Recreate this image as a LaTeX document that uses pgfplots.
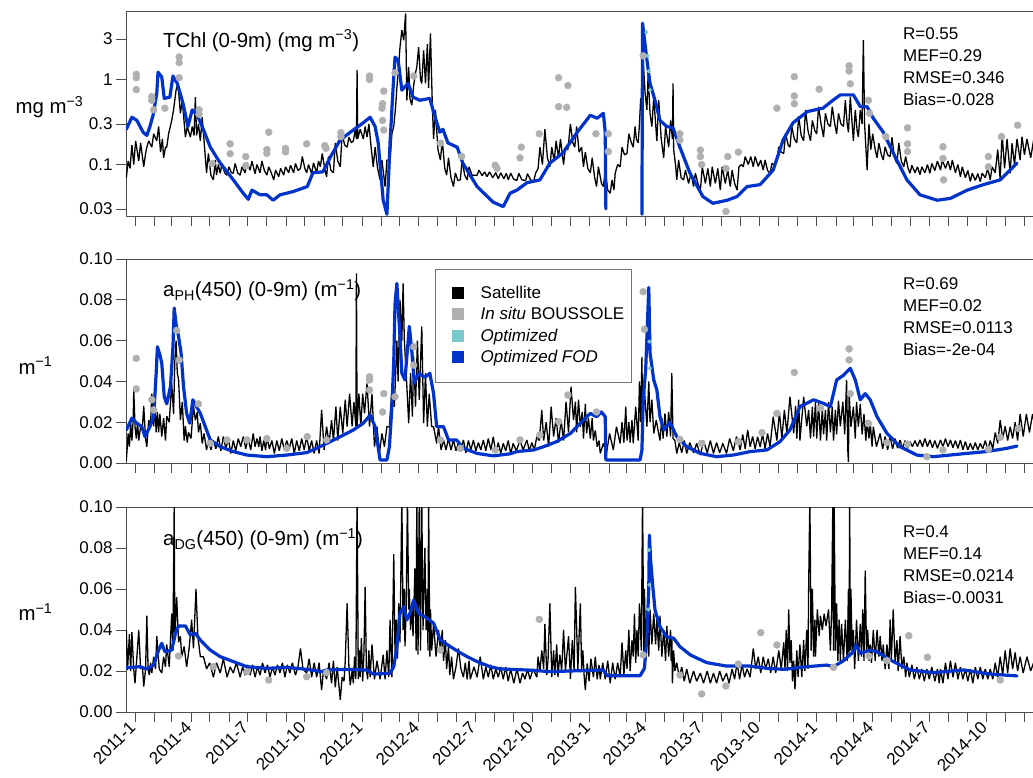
\documentclass[border=0pt]{standalone}
\usepackage{fontspec}
\setmainfont{Liberation Sans}
\usepackage{pgfplots}
\usepackage{pgfplotstable}
\pgfplotsset{compat=1.18}
\definecolor{fod}{RGB}{0,51,204}
\definecolor{opt}{RGB}{120,200,205}
\definecolor{insitu}{RGB}{176,176,176}
\newcommand\F{\fontsize{17}{22}\selectfont}
\newcommand\G{\fontsize{20.4}{24}\selectfont}

% ---------------- TChl satellite ----------------
\pgfplotstableread{
d v
-14 0.07
-11 0.11
-8 0.09
-5 0.17
-2 0.10
1 0.19
6 0.11
9 0.18
14 0.094
17 0.135
19 0.16
22 0.19
27 0.16
30 0.23
35 0.19
38 0.28
41 0.14
44 0.2
46 0.12
49 0.16
51 0.16
54 0.23
59 0.33
62 0.44
66 0.75
69 0.9
73 0.40
76 0.57
81 0.21
84 0.28
89 0.21
92 0.28
95 0.22
97 0.62
99 0.22
102 0.30
105 0.19
108 0.36
115 0.08
118 0.135
122 0.075
126 0.066
129 0.113
131 0.075
134 0.10
137 0.079
140 0.103
144 0.08
148 0.075
151 0.094
155 0.08
158 0.079
161 0.103
165 0.08
169 0.075
172 0.094
177 0.08
180 0.105
185 0.086
188 0.11
193 0.078
196 0.10
201 0.08
204 0.11
208 0.085
212 0.075
215 0.094
219 0.08
223 0.066
226 0.086
231 0.072
234 0.09
239 0.075
242 0.094
247 0.08
250 0.098
255 0.08
258 0.103
262 0.085
266 0.09
269 0.124
273 0.09
276 0.08
279 0.10
284 0.078
287 0.105
292 0.08
295 0.11
298 0.094
301 0.135
305 0.09
308 0.072
311 0.124
315 0.085
319 0.08
322 0.18
326 0.11
330 0.094
333 0.23
337 0.17
341 0.16
344 0.21
348 0.18
351 0.19
354 0.255
356 0.2
357 1.3
358 0.2
362 0.26
367 0.2
370 0.28
373 0.21
376 0.3
380 0.15
383 0.094
386 0.16
390 0.09
394 0.066
397 0.113
402 0.055
405 0.113
410 0.113
413 0.23
416 0.28
419 0.48
421 0.8
424 1.5
426 2.4
429 3.8
432 2.9
435 6
437 0.57
440 1.4
442 0.6
445 0.5
448 0.85
451 1.2
453 1.4
456 2.4
459 1.0
461 0.9
464 2.2
467 0.9
470 2.6
472 0.8
475 3.5
478 0.5
480 0.2
483 0.44
487 0.15
491 0.113
494 0.194
498 0.09
501 0.075
504 0.12
508 0.07
512 0.055
515 0.08
519 0.065
523 0.066
526 0.113
530 0.075
534 0.066
537 0.094
542 0.075
550 0.075
553 0.086
558 0.074
562 0.082
566 0.072
570 0.082
575 0.07
580 0.08
584 0.068
588 0.08
593 0.068
597 0.079
600 0.066
604 0.079
609 0.067
614 0.065
617 0.079
622 0.066
628 0.065
631 0.078
636 0.066
641 0.063
644 0.079
648 0.09
651 0.16
655 0.1
659 0.26
663 0.12
667 0.094
670 0.16
674 0.11
677 0.19
681 0.12
684 0.2
689 0.1
692 0.16
696 0.15
700 0.3
704 0.18
707 0.16
710 0.28
714 0.14
718 0.16
721 0.094
724 0.14
728 0.09
732 0.08
735 0.12
739 0.07
742 0.055
745 0.094
750 0.06
753 0.055
756 0.086
760 0.05
764 0.046
767 0.066
770 0.05
772 0.079
776 0.1
780 0.094
783 0.16
787 0.13
791 0.135
794 0.23
798 0.18
801 0.16
804 0.28
806 0.2
809 0.18
811 0.3
813 0.6
815 0.57
817 1.7
820 0.7
823 0.44
825 1.18
828 0.4
831 0.28
834 0.63
837 0.3
839 0.19
842 0.57
846 0.2
850 0.12
853 0.28
856 0.2
858 0.16
861 0.33
864 0.2
865 0.9
866 0.15
869 0.1
871 0.066
874 0.113
878 0.07
882 0.066
885 0.086
890 0.06
894 0.079
898 0.055
901 0.079
905 0.06
909 0.05
912 0.094
917 0.06
921 0.09
925 0.055
928 0.094
933 0.06
937 0.09
941 0.05
944 0.094
949 0.06
953 0.086
957 0.055
960 0.086
964 0.06
968 0.05
971 0.094
975 0.1
978 0.094
981 0.124
986 0.1
990 0.124
994 0.094
997 0.124
1002 0.095
1006 0.113
1010 0.086
1013 0.113
1017 0.085
1021 0.079
1024 0.103
1028 0.1
1032 0.113
1035 0.162
1039 0.14
1043 0.135
1046 0.233
1050 0.17
1053 0.16
1056 0.28
1060 0.2
1064 0.18
1067 0.37
1071 0.22
1075 0.19
1078 0.44
1082 0.25
1086 0.19
1089 0.33
1093 0.25
1096 0.23
1099 0.48
1103 0.3
1107 0.21
1110 0.40
1114 0.3
1118 0.28
1121 0.48
1125 0.3
1128 0.23
1131 0.40
1135 0.3
1139 0.28
1142 0.57
1145 0.3
1147 0.24
1150 0.63
1153 0.3
1155 0.19
1158 0.44
1161 0.25
1163 0.21
1166 0.44
1169 0.3
1171 2.9
1173 0.3
1177 0.086
1180 0.30
1183 0.15
1186 0.23
1190 0.15
1193 0.12
1196 0.178
1200 0.13
1203 0.113
1206 0.162
1210 0.13
1214 0.124
1217 0.21
1221 0.12
1225 0.103
1228 0.178
1232 0.11
1236 0.094
1239 0.124
1243 0.09
1246 0.079
1249 0.098
1254 0.08
1258 0.094
1262 0.076
1265 0.094
1270 0.08
1274 0.1
1278 0.079
1281 0.103
1286 0.085
1290 0.11
1295 0.086
1298 0.113
1303 0.09
1307 0.11
1311 0.086
1314 0.113
1319 0.08
1323 0.1
1327 0.072
1330 0.094
1335 0.07
1339 0.085
1343 0.063
1346 0.079
1351 0.065
1355 0.078
1359 0.063
1362 0.079
1367 0.07
1371 0.09
1375 0.066
1378 0.094
1383 0.08
1387 0.15
1391 0.066
1394 0.233
1398 0.09
1402 0.2
1407 0.079
1410 0.178
1414 0.1
1418 0.2
1423 0.113
1426 0.213
1430 0.13
1434 0.2
1440 0.12
1445 0.2
1450 0.13
1455 0.2
}\satA

\pgfplotstableread{
d v
-14 0.26
-5 0.36
3 0.33
13 0.24
19 0.22
24 0.28
29 0.38
35 0.69
37 1.22
43 1.07
47 0.6
56 0.62
61 1.1
68 0.9
77 0.53
85 0.28
92 0.44
100 0.38
108 0.28
121 0.16
137 0.104
158 0.066
174 0.046
182 0.039
188 0.05
201 0.044
212 0.044
222 0.038
233 0.044
254 0.048
277 0.055
286 0.080
302 0.082
314 0.122
330 0.195
351 0.255
367 0.31
378 0.36
386 0.28
391 0.18
399 0.038
405 0.026
407 0.055
410 0.18
415 0.81
418 1.83
423 1.7
429 0.75
439 0.9
447 0.62
458 0.57
474 0.6
479 0.44
490 0.24
495 0.26
503 0.18
518 0.16
527 0.104
550 0.055
576 0.036
592 0.032
603 0.046
614 0.05
630 0.061
651 0.066
667 0.104
688 0.137
711 0.24
732 0.38
743 0.35
753 0.40
756 0.24
757 0.03
758 nan
814 nan
815 0.026
816 4.6
823 1.7
828 0.9
836 0.57
844 0.33
855 0.28
865 0.27
876 0.16
892 0.08
913 0.042
929 0.035
952 0.038
968 0.042
984 0.055
1005 0.058
1026 0.086
1042 0.195
1058 0.31
1081 0.42
1106 0.46
1122 0.57
1134 0.66
1155 0.66
1166 0.48
1177 0.48
1187 0.35
1203 0.24
1219 0.137
1241 0.066
1262 0.044
1290 0.038
1311 0.040
1338 0.05
1364 0.058
1391 0.066
1418 0.104
}\blA

\pgfplotstableread{
d v
2 1.15
2 1.05
2 0.76
27 0.63
27 0.57
30 0.44
48 0.46
71 1.84
71 1.58
71 1.05
103 0.44
103 0.39
124 0.103
153 0.175
153 0.134
178 0.124
178 0.097
215 0.24
212 0.15
212 0.135
242 0.155
242 0.141
276 0.175
305 0.167
307 0.155
331 0.237
331 0.213
377 1.1
377 1.0
400 0.73
398 0.52
397 0.46
398 0.33
400 0.255
418 1.2
448 1.1
491 0.178
525 0.125
579 0.098
582 0.09
619 0.12
621 0.16
650 0.23
681 1.05
696 0.85
681 0.48
694 0.47
741 0.23
761 0.23
761 0.142
817 1.9
876 0.23
876 0.194
909 0.148
909 0.124
911 0.1
953 0.124
950 0.09
950 0.028
970 0.14
1032 0.46
1060 1.08
1060 0.64
1060 0.52
1100 0.77
1148 1.45
1148 1.26
1150 0.89
1179 0.57
1181 0.40
1207 0.213
1242 0.27
1242 0.175
1242 0.142
1299 0.162
1299 0.118
1300 0.066
1372 0.124
1372 0.094
1393 0.213
1419 0.29
}\grA

% ---------------- aPH satellite ----------------
\pgfplotstableread{
d v
-14 0.001
-11 0.0145
-9 0.008
-7 0.02
-5 0.011
-3 0.021
-2 0.036
0 0.018
2 0.012
4 0.02
6 0.011
9 0.018
12 0.018
14 0.028
17 0.012
19 0.008
22 0.021
25 0.019
27 0.034
30 0.018
32 0.028
34 0.015
36 0.025
38 0.015
40 0.024
43 0.013
46 0.022
49 0.011
51 0.023
55 0.02
59 0.039
62 0.024
64 0.05
66 0.06
68 0.044
70 0.041
73 0.021
76 0.03
79 0.011
81 0.018
84 0.01
86 0.015
90 0.012
94 0.028
97 0.021
100 0.025
102 0.015
105 0.0195
108 0.0096
111 0.0145
115 0.0064
118 0.011
122 0.0064
126 0.011
130 0.007
134 0.013
138 0.006
142 0.013
146 0.007
150 0.012
154 0.0047
158 0.011
162 0.006
166 0.012
170 0.008
174 0.013
178 0.007
182 0.012
186 0.0064
190 0.0145
193 0.008
196 0.012
199 0.008
201 0.013
204 0.006
207 0.011
210 0.0064
212 0.013
216 0.007
220 0.011
224 0.0047
228 0.011
232 0.006
236 0.012
240 0.0064
244 0.011
248 0.007
252 0.012
256 0.0047
260 0.011
264 0.006
268 0.012
272 0.0064
276 0.013
280 0.006
284 0.011
288 0.0047
292 0.011
296 0.0047
300 0.026
304 0.0064
308 0.0178
312 0.0096
316 0.021
319 0.011
323 0.0276
326 0.011
330 0.0276
334 0.0145
338 0.031
341 0.0178
345 0.034
349 0.018
352 0.03
355 0.018
356 0.093
357 0.018
360 0.034
363 0.0178
366 0.034
369 0.0243
373 0.039
377 0.0178
381 0.034
385 0.008
389 0.0178
393 0.005
397 0.0145
401 0.008
405 0.0178
409 0.0178
413 0.0358
417 0.0276
421 0.06
423 0.04
426 0.08
429 0.06
431 0.088
433 0.06
436 0.044
440 0.0195
443 0.044
446 0.0227
448 0.052
451 0.0276
454 0.06
457 0.031
461 0.067
464 0.0195
467 0.044
470 0.0178
473 0.034
477 0.0178
480 0.0178
485 0.0096
488 0.0178
492 0.0064
496 0.0113
500 0.0064
504 0.012
508 0.0064
512 0.0113
516 0.006
520 0.01
524 0.0064
528 0.0113
532 0.005
536 0.011
540 0.0064
544 0.0113
548 0.006
552 0.01
556 0.0064
560 0.0113
564 0.006
568 0.012
572 0.0064
576 0.0129
580 0.005
584 0.01
588 0.0047
592 0.0096
596 0.006
600 0.011
604 0.0047
608 0.0096
613 0.006
619 0.011
624 0.0064
630 0.0113
634 0.006
638 0.01
642 0.0064
646 0.0129
650 0.011
654 0.026
657 0.011
661 0.02
665 0.008
669 0.0276
673 0.013
677 0.022
681 0.01
685 0.0211
689 0.011
693 0.03
697 0.015
701 0.0374
705 0.021
708 0.03
710 0.015
713 0.031
716 0.0178
719 0.025
721 0.012
724 0.029
726 0.0145
729 0.022
732 0.012
735 0.022
737 0.011
740 0.016
743 0.008
746 0.011
748 0.0047
753 0.0096
758 0.0047
763 0.0145
769 0.0064
774 0.0178
780 0.0096
783 0.02
786 0.01
789 0.0276
791 0.011
794 0.02
796 0.01
799 0.0211
801 0.0096
805 0.0276
809 0.011
811 0.04
813 0.02
815 0.052
816 0.0195
819 0.0358
823 0.0178
826 0.04
828 0.02
831 0.031
834 0.0145
838 0.0211
844 0.011
847 0.022
849 0.012
852 0.0243
855 0.013
858 0.025
861 0.013
863 0.044
865 0.012
868 0.011
871 0.0047
875 0.01
879 0.005
883 0.011
887 0.0047
892 0.01
898 0.005
903 0.0096
909 0.0039
914 0.011
920 0.005
925 0.011
930 0.0047
935 0.01
940 0.005
945 0.0096
951 0.0047
956 0.012
962 0.006
967 0.013
973 0.0064
977 0.014
981 0.007
985 0.0162
989 0.008
993 0.013
997 0.007
1001 0.0129
1005 0.0079
1009 0.014
1013 0.007
1017 0.0145
1021 0.008
1026 0.0227
1032 0.011
1036 0.025
1040 0.012
1044 0.026
1048 0.0145
1053 0.0325
1059 0.0145
1062 0.028
1064 0.012
1067 0.031
1069 0.011
1075 0.0325
1080 0.018
1083 0.026
1086 0.012
1089 0.0276
1091 0.013
1094 0.03
1096 0.012
1099 0.0292
1102 0.011
1105 0.027
1107 0.014
1110 0.026
1112 0.011
1115 0.030
1118 0.015
1121 0.0276
1123 0.011
1126 0.026
1128 0.014
1131 0.0305
1134 0.018
1138 0.03
1141 0.014
1144 0.0407
1146 0.006
1147 0.0005
1148 0.035
1151 0.0178
1155 0.0276
1158 0.012
1160 0.03
1163 0.0178
1166 0.029
1169 0.014
1172 0.024
1175 0.011
1177 0.021
1180 0.012
1182 0.02
1185 0.008
1187 0.0178
1192 0.008
1198 0.0145
1202 0.007
1206 0.013
1210 0.0064
1214 0.013
1218 0.007
1222 0.012
1226 0.0072
1230 0.0113
1234 0.007
1238 0.011
1242 0.0072
1246 0.0105
1250 0.008
1254 0.011
1258 0.008
1262 0.0113
1266 0.008
1270 0.012
1274 0.008
1278 0.0113
1282 0.0075
1286 0.011
1290 0.0072
1295 0.0113
1299 0.008
1303 0.012
1307 0.008
1311 0.0113
1315 0.0075
1319 0.011
1323 0.0072
1327 0.0113
1331 0.0065
1335 0.0105
1339 0.0064
1343 0.0096
1347 0.0065
1351 0.01
1355 0.0064
1359 0.0096
1363 0.007
1367 0.011
1371 0.0064
1375 0.011
1379 0.007
1383 0.015
1387 0.0096
1391 0.021
1395 0.012
1399 0.018
1403 0.011
1407 0.0178
1411 0.012
1415 0.02
1419 0.011
1423 0.024
1428 0.013
1433 0.024
1438 0.015
1443 0.024
1449 0.015
1455 0.024
}\satB

\pgfplotstableread{
d v
-14 0.0162
-5 0.022
3 0.0195
11 0.0178
16 0.0129
24 0.0178
30 0.0227
34 0.044
36 0.057
40 0.053
43 0.049
47 0.0325
51 0.029
57 0.0374
61 0.057
63 0.076
66 0.068
70 0.062
74 0.054
78 0.0374
83 0.0243
88 0.0195
93 0.031
99 0.0276
105 0.0243
113 0.0178
121 0.0113
137 0.008
158 0.0056
180 0.0039
212 0.0031
244 0.0039
276 0.0051
292 0.0072
308 0.0096
330 0.0129
351 0.0162
367 0.0195
378 0.0235
386 0.0178
390 0.0096
394 0.0015
405 0.0015
409 0.008
413 0.0276
416 0.05
418 0.078
421 0.088
424 0.072
426 0.062
429 0.044
434 0.0407
441 0.067
445 0.055
449 0.039
456 0.044
466 0.042
474 0.044
480 0.034
485 0.0178
496 0.0178
504 0.0113
517 0.0113
528 0.0072
550 0.0047
576 0.0035
603 0.0045
614 0.0056
641 0.0064
657 0.008
678 0.0105
700 0.0145
716 0.0195
732 0.0243
742 0.0227
750 0.025
756 0.0227
757 0.0015
812 0.0015
815 0.0064
817 0.031
821 0.0456
826 0.086
828 0.054
834 0.0407
839 0.0358
844 0.0227
850 0.0162
860 0.02
871 0.0129
887 0.008
909 0.0047
935 0.0031
962 0.0039
989 0.0056
1016 0.0064
1037 0.0105
1053 0.0162
1069 0.0276
1091 0.031
1107 0.0292
1118 0.0276
1128 0.0407
1139 0.043
1150 0.0464
1158 0.0407
1166 0.031
1174 0.034
1182 0.031
1193 0.0227
1209 0.0145
1230 0.008
1257 0.0039
1284 0.0031
1337 0.0047
1369 0.0056
1402 0.0072
1418 0.0083
}\blB

\pgfplotstableread{
d v
2 0.0513
2 0.0363
27 0.031
30 0.026
67 0.065
71 0.0505
102 0.029
121 0.0096
148 0.0113
180 0.0113
212 0.012
244 0.0072
277 0.0129
308 0.0113
377 0.0423
377 0.0407
377 0.0358
400 0.034
398 0.025
418 0.0325
448 0.057
448 0.048
491 0.0113
523 0.0072
579 0.0064
619 0.0113
651 0.0137
681 0.0203
696 0.0333
742 0.025
817 0.084
819 0.0655
876 0.0116
911 0.0096
970 0.0105
1008 0.0149
1032 0.0243
1060 0.0444
1102 0.0268
1148 0.0559
1148 0.0505
1150 0.034
1179 0.0194
1209 0.01
1242 0.0093
1273 0.0031
1299 0.0064
1372 0.0067
1391 0.0126
1420 0.017
}\grB

% ---------------- aDG satellite ----------------
\pgfplotstableread{
d v
-14 0.04
-12 0.0205
-9 0.038
-7 0.02
-5 0.039
-2 0.0205
0 0.014
3 0.027
6 0.04
9 0.021
12 0.022
14 0.0124
17 0.021
19 0.047
21 0.021
23 0.018
25 0.024
27 0.019
30 0.027
33 0.021
35 0.037
39 0.021
43 0.019
46 0.027
49 0.022
51 0.033
55 0.022
59 0.048
61 0.03
62 0.07
63 0.1
64 0.035
67 0.056
70 0.034
73 0.037
75 0.027
79 0.032
83 0.022
87 0.031
91 0.045
94 0.031
98 0.06
101 0.037
105 0.027
110 0.027
115 0.021
120 0.024
126 0.017
131 0.024
137 0.019
142 0.026
148 0.017
153 0.022
158 0.019
163 0.024
169 0.017
173 0.022
177 0.018
181 0.023
185 0.018
189 0.023
193 0.017
197 0.022
201 0.018
205 0.024
209 0.019
213 0.023
217 0.017
221 0.022
225 0.018
229 0.023
233 0.019
237 0.024
241 0.017
245 0.023
249 0.019
253 0.024
258 0.018
262 0.022
266 0.031
270 0.021
276 0.019
280 0.026
284 0.017
288 0.024
292 0.017
296 0.024
300 0.0107
303 0.0205
308 0.016
312 0.024
316 0.014
319 0.025
322 0.012
325 0.022
330 0.0059
333 0.017
336 0.015
338 0.025
341 0.053
344 0.021
346 0.013
349 0.02
351 0.014
353 0.027
355 0.016
357 0.105
359 0.016
361 0.03
362 0.017
364 0.036
366 0.015
368 0.028
370 0.061
372 0.021
374 0.016
376 0.03
378 0.017
381 0.033
385 0.016
389 0.025
394 0.016
399 0.028
402 0.016
405 0.03
408 0.017
410 0.045
413 0.017
416 0.077
418 0.029
420 0.045
422 0.026
424 0.053
426 0.034
429 0.105
431 0.04
433 0.06
434 0.032
436 0.05
438 0.105
440 0.05
441 0.06
443 0.04
445 0.053
447 0.037
450 0.07
452 0.03
453 0.105
455 0.028
457 0.105
459 0.03
461 0.105
463 0.04
466 0.08
468 0.04
470 0.06
471 0.03
472 0.105
474 0.027
475 0.05
477 0.03
480 0.043
484 0.027
488 0.04
491 0.03
494 0.04
496 0.025
499 0.035
501 0.021
504 0.032
506 0.018
509 0.027
512 0.016
516 0.022
520 0.031
524 0.021
528 0.017
531 0.024
534 0.016
537 0.025
539 0.016
545 0.022
550 0.017
555 0.027
560 0.016
564 0.022
568 0.017
572 0.023
576 0.016
580 0.021
584 0.017
588 0.022
592 0.016
596 0.022
600 0.015
604 0.021
609 0.014
614 0.021
619 0.014
623 0.019
627 0.016
631 0.021
635 0.016
640 0.021
646 0.017
648 0.027
651 0.02
654 0.03
657 0.021
659 0.043
662 0.018
664 0.025
667 0.053
670 0.017
673 0.03
675 0.018
678 0.033
680 0.017
683 0.028
686 0.02
689 0.04
692 0.02
697 0.037
700 0.016
703 0.035
706 0.02
708 0.061
712 0.021
716 0.053
718 0.021
720 0.03
722 0.018
724 0.0107
727 0.0237
730 0.015
733 0.026
737 0.017
740 0.027
743 0.016
746 0.023
748 0.016
752 0.024
756 0.016
760 0.025
764 0.014
768 0.024
772 0.016
776 0.024
780 0.017
783 0.034
786 0.018
789 0.03
791 0.021
794 0.04
796 0.02
799 0.035
801 0.027
803 0.048
805 0.024
807 0.04
809 0.027
811 0.053
814 0.03
816 0.105
818 0.027
819 0.06
821 0.03
823 0.05
826 0.027
828 0.05
831 0.033
834 0.048
837 0.033
839 0.045
842 0.03
844 0.047
847 0.027
850 0.04
853 0.025
855 0.042
858 0.027
861 0.04
862 0.025
863 0.037
864 0.014
866 0.03
868 0.02
871 0.024
875 0.017
879 0.022
883 0.015
887 0.021
892 0.014
898 0.02
903 0.015
909 0.019
914 0.014
920 0.02
925 0.014
930 0.019
935 0.014
940 0.02
945 0.015
951 0.019
955 0.014
960 0.021
964 0.016
968 0.024
972 0.016
976 0.023
980 0.017
984 0.021
989 0.017
994 0.031
998 0.021
1002 0.027
1006 0.019
1010 0.027
1014 0.021
1018 0.026
1022 0.019
1026 0.027
1030 0.019
1035 0.03
1039 0.021
1043 0.034
1045 0.021
1047 0.04
1049 0.02
1051 0.05
1053 0.024
1055 0.035
1057 0.015
1059 0.025
1061 0.011
1064 0.03
1066 0.017
1069 0.033
1072 0.017
1075 0.035
1077 0.02
1080 0.04
1082 0.021
1083 0.06
1085 0.105
1087 0.03
1089 0.06
1091 0.027
1093 0.045
1094 0.027
1097 0.05
1100 0.037
1102 0.047
1105 0.04
1108 0.048
1111 0.042
1115 0.05
1118 0.03
1120 0.05
1122 0.105
1123 0.03
1124 0.105
1126 0.03
1128 0.053
1130 0.025
1132 0.045
1134 0.025
1136 0.043
1139 0.025
1142 0.045
1145 0.025
1147 0.06
1148 0.028
1149 0.105
1150 0.03
1151 0.06
1153 0.028
1155 0.04
1157 0.021
1160 0.045
1163 0.025
1166 0.043
1168 0.027
1170 0.05
1172 0.025
1174 0.069
1176 0.03
1178 0.04
1180 0.025
1182 0.033
1184 0.024
1187 0.04
1190 0.025
1193 0.04
1196 0.027
1198 0.037
1201 0.025
1203 0.033
1206 0.021
1209 0.033
1212 0.021
1214 0.045
1216 0.025
1219 0.05
1222 0.024
1225 0.035
1227 0.02
1230 0.037
1233 0.021
1236 0.027
1239 0.017
1241 0.024
1245 0.017
1249 0.023
1253 0.016
1257 0.022
1261 0.016
1265 0.021
1269 0.015
1273 0.021
1277 0.016
1281 0.022
1286 0.015
1290 0.021
1293 0.014
1295 0.021
1299 0.014
1303 0.024
1307 0.016
1311 0.025
1315 0.017
1319 0.024
1323 0.016
1327 0.022
1331 0.016
1335 0.021
1339 0.015
1343 0.021
1347 0.014
1351 0.022
1355 0.016
1359 0.022
1363 0.016
1367 0.021
1371 0.016
1375 0.021
1379 0.016
1383 0.024
1387 0.017
1391 0.027
1395 0.018
1399 0.03
1403 0.019
1407 0.031
1411 0.021
1415 0.029
1419 0.02
1423 0.027
1428 0.019
1434 0.027
1440 0.02
1447 0.026
1455 0.02
}\satC

\pgfplotstableread{
d v
-14 0.0216
8 0.0221
19 0.021
30 0.0229
38 0.0302
43 0.0335
48 0.0294
59 0.0302
65 0.0384
70 0.042
81 0.042
89 0.0376
97 0.0384
105 0.0351
121 0.0302
137 0.027
158 0.0246
180 0.0221
212 0.0213
244 0.0218
276 0.0208
300 0.0197
308 0.0205
340 0.0208
373 0.0205
383 0.0185
410 0.0189
416 0.0221
421 0.0319
426 0.0481
432 0.0514
437 0.0449
442 0.0481
448 0.0546
456 0.0481
466 0.0465
480 0.0433
491 0.0351
507 0.0319
520 0.0294
534 0.027
550 0.0246
571 0.0221
587 0.021
630 0.0205
667 0.0197
721 0.0202
753 0.0205
759 0.0177
812 0.0177
819 0.0213
823 0.0367
826 0.061
827 0.0863
829 0.074
832 0.0628
836 0.0498
844 0.0416
855 0.0367
866 0.036
876 0.0319
893 0.0278
919 0.0241
951 0.0224
989 0.0224
1016 0.0213
1043 0.0208
1080 0.0221
1112 0.0229
1123 0.0221
1139 0.025
1155 0.0294
1159 0.0327
1166 0.0286
1182 0.0302
1193 0.0294
1214 0.0254
1246 0.0205
1284 0.0192
1332 0.0205
1375 0.0185
1418 0.0176
}\blC

\pgfplotstableread{
d v
70 0.0273
126 0.0221
180 0.0197
215 0.0156
276 0.0172
308 0.0192
491 0.0302
650 0.0452
817 0.0278
876 0.018
911 0.0088
950 0.0127
970 0.0234
1006 0.0387
1032 0.0327
1123 0.0218
1180 0.0273
1209 0.025
1244 0.0372
1274 0.0267
1391 0.0156
}\grC

\pgfplotsset{
  panel/.style={
    scale only axis, width=914pt,
    xmin=-14.5, xmax=1455,
    axis line style={line width=0.8pt, draw=black!70},
    tick align=outside, major tick length=10pt,
    tick style={line width=0.8pt, draw=black!70},
    xtick pos=left, ytick pos=left,
    xtick={0,31,59,90,120,151,181,212,243,273,304,334,365,396,425,456,486,517,547,578,609,639,670,700,731,762,790,821,851,882,912,943,974,1004,1035,1065,1096,1127,1155,1186,1216,1247,1277,1308,1339,1369,1400,1430},
    tick label style={font=\F, black},
    /pgf/number format/assume math mode=true,
    xminorticks=false, yminorticks=false,
    clip=true,
  },
  sat/.style={draw=black, line width=1.3pt, line join=bevel, forget plot},
  fodline/.style={fod, line width=3.2pt, line join=round, line cap=round, no marks, forget plot, unbounded coords=jump},
  insitudots/.style={only marks, mark=*, mark size=3.5pt, insitu, forget plot},
  optdots/.style={only marks, mark=*, mark size=1.9pt, opt, forget plot},
}
\tikzset{
  ttl/.style={anchor=base west, font=\G, inner sep=0pt},
  stat/.style={anchor=north west, align=left, font=\F, inner sep=0pt},
}

\begin{document}
\begin{tikzpicture}

% ---------- panel 1 ----------
\begin{axis}[panel, at={(126pt,-216pt)}, anchor=south west, height=205pt,
  ymode=log, ymin=0.0248, ymax=6.4,
  ytick={0.03,0.1,0.3,1,3}, yticklabels={0.03,0.1,0.3,1,3},
  xticklabel=\empty,
  ylabel={mg m\textsuperscript{−3}},
  every axis y label/.style={at={(axis description cs:-0.1247,0.4976)}, anchor=base west, font=\G}]
\addplot[sat] table[x=d,y=v]{\satA};
\addplot[insitudots] table[x=d,y=v]{\grA};
\addplot[optdots] coordinates {(822,3.6)(824,1.9)(826,1.25)(828,0.75)};
\addplot[fodline] table[x=d,y=v]{\blA};
\node[ttl] at (rel axis cs:0.0405,0.824) {TChl (0-9m) (mg m\textsuperscript{−3})};
\node[stat] at (rel axis cs:0.850,0.922) {R=0.55\\MEF=0.29\\RMSE=0.346\\Bias=-0.028};
\end{axis}

% ---------- panel 2 ----------
\begin{axis}[panel, at={(126pt,-463pt)}, anchor=south west, height=204pt,
  ymin=0, ymax=0.1,
  ytick={0,0.02,0.04,0.06,0.08,0.1}, yticklabels={0.00,0.02,0.04,0.06,0.08,0.10},
  xticklabel=\empty,
  ylabel={m\textsuperscript{−1}},
  every axis y label/.style={at={(axis description cs:-0.1214,0.436)}, anchor=base west, font=\G},
  legend style={at={(axis description cs:0.3384,0.951)}, anchor=north west,
    draw=black!55, line width=0.8pt, font=\F, inner xsep=7pt, inner ysep=16pt,
    row sep=4.5pt, nodes={inner sep=0pt, text height=13pt, text depth=4pt},
    cells={anchor=west}},
  legend image code/.code={\fill[#1, draw=none] (9pt,-5pt) rectangle (21pt,7pt); \path[draw=none, fill=none] (0pt,0pt) -- (38pt,0pt);}]
\addplot[sat] table[x=d,y=v]{\satB};
\addplot[insitudots] table[x=d,y=v]{\grB};
\addplot[optdots] coordinates {(827,0.0595)(828,0.0464)};
\addplot[fodline] table[x=d,y=v]{\blB};
\addlegendimage{fill=black}\addlegendentry{Satellite}
\addlegendimage{fill=insitu}\addlegendentry{\textit{In situ} BOUSSOLE}
\addlegendimage{fill=opt}\addlegendentry{\textit{Optimized}}
\addlegendimage{fill=fod}\addlegendentry{\textit{Optimized FOD}}
\node[ttl] at (rel axis cs:0.0405,0.814) {a\textsubscript{PH}(450) (0-9m) (m\textsuperscript{−1})};
\node[stat] at (rel axis cs:0.850,0.912) {R=0.69\\MEF=0.02\\RMSE=0.0113\\Bias=-2e-04};
\end{axis}

% ---------- panel 3 ----------
\begin{axis}[panel, at={(126pt,-712pt)}, anchor=south west, height=205pt,
  ymin=0, ymax=0.1,
  ytick={0,0.02,0.04,0.06,0.08,0.1}, yticklabels={0.00,0.02,0.04,0.06,0.08,0.10},
  xticklabels={2011-1,,,2011-4,,,2011-7,,,2011-10,,,2012-1,,,2012-4,,,2012-7,,,2012-10,,,2013-1,,,2013-4,,,2013-7,,,2013-10,,,2014-1,,,2014-4,,,2014-7,,,2014-10,,},
  xticklabel style={rotate=45, anchor=east, font=\F},
  ylabel={m\textsuperscript{−1}},
  every axis y label/.style={at={(axis description cs:-0.1214,0.444)}, anchor=base west, font=\G}]
\addplot[sat] table[x=d,y=v]{\satC};
\addplot[insitudots] table[x=d,y=v]{\grC};
\addplot[optdots] coordinates {(825,0.05)(826,0.079)(827,0.062)};
\addplot[fodline] table[x=d,y=v]{\blC};
\node[ttl] at (rel axis cs:0.0405,0.81) {a\textsubscript{DG}(450) (0-9m) (m\textsuperscript{−1})};
\node[stat] at (rel axis cs:0.850,0.912) {R=0.4\\MEF=0.14\\RMSE=0.0214\\Bias=-0.0031};
\end{axis}

\pgfresetboundingbox
\path[use as bounding box] (0,0) rectangle (1033pt,-778pt);
\end{tikzpicture}
\end{document}
